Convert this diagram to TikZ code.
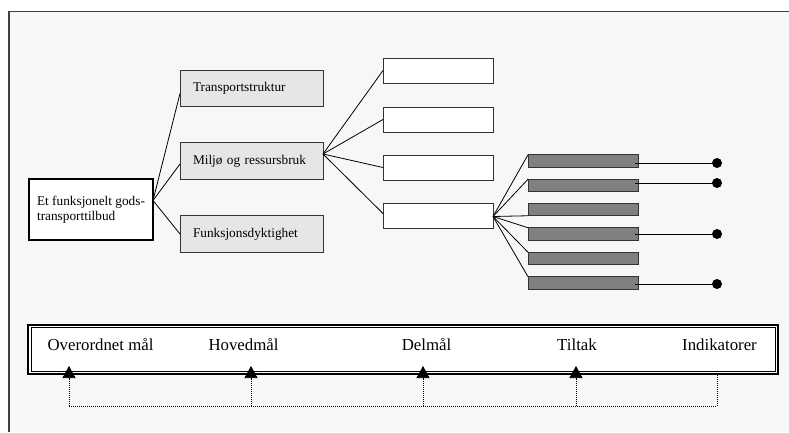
\documentclass[tikz,border=0pt]{standalone}
\usepackage{fontspec}
\setmainfont{Liberation Serif}
\usetikzlibrary{arrows.meta}
\definecolor{bgpanel}{HTML}{F7F7F7}
\definecolor{framec}{HTML}{404040}
\definecolor{lightbox}{HTML}{E6E6E6}
\definecolor{darkbar}{HTML}{808080}
\definecolor{edgec}{HTML}{333333}
\tikzset{
  boxbase/.style={draw=edgec, line width=1pt, inner sep=0pt, outer sep=0pt},
  rootbox/.style={boxbase, line width=1.8pt, draw=black, fill=white, minimum width=124pt, minimum height=61pt, align=left, font=\fontsize{13.3}{15}\selectfont},
  catbox/.style={boxbase, fill=lightbox, minimum width=143pt, minimum height=36.5pt, text width=117pt, align=left, font=\fontsize{13.3}{15}\selectfont},
  blankbox/.style={boxbase, fill=white, minimum width=110pt, minimum height=25pt},
  barbox/.style={boxbase, fill=darkbar, minimum width=110pt, minimum height=12.5pt},
  enddot/.style={circle, fill=black, inner sep=0pt, minimum size=10pt},
  conn/.style={line width=0.8pt, black},
  bandlabel/.style={anchor=base, font=\fontsize{16.8}{19}\selectfont, inner sep=0pt},
  dotline/.style={line width=0.7pt, dash pattern=on 1pt off 1pt, black},
  uptip/.style={-{Triangle[width=13pt,length=12pt,color=black,fill=black]}}
}
\begin{document}
\begin{tikzpicture}[x=1pt,y=-1pt]
\useasboundingbox (0,0) rectangle (789,432);
\fill[white] (0,0) rectangle (789,432);
\fill[bgpanel] (9,11.5) rectangle (789,432);
\draw[framec, line width=1.5pt] (9,432) -- (9,11.5) -- (789,11.5);

% root
\node[rootbox] (root) at (91,209.5) {Et funksjonelt gods-\\transporttilbud};

% categories
\node[catbox] (c1) at (251.5,88.5) {Transportstruktur};
\node[catbox] (c2) at (251.5,161) {Miljø og ressursbruk};
\node[catbox] (c3) at (251.5,234) {Funksjonsdyktighet};

% blank boxes
\node[blankbox] (w1) at (438,70.5) {};
\node[blankbox] (w2) at (438,119.5) {};
\node[blankbox] (w3) at (438,167.5) {};
\node[blankbox] (w4) at (438,215.5) {};

% bars
\node[barbox] (b1) at (583,161) {};
\node[barbox] (b2) at (583,185.5) {};
\node[barbox] (b3) at (583,209.5) {};
\node[barbox] (b4) at (583,234) {};
\node[barbox] (b5) at (583,258.5) {};
\node[barbox] (b6) at (583,283) {};

% dots
\node[enddot] (d1) at (717,163) {};
\node[enddot] (d2) at (717,183) {};
\node[enddot] (d4) at (717,234) {};
\node[enddot] (d6) at (717,284) {};

% connectors root -> categories
\coordinate (rs) at ([yshift=9pt]root.east);
\draw[conn] (rs) -- ([yshift=-5pt]c1.west);
\draw[conn] (rs) -- ([yshift=-3pt]c2.west);
\draw[conn] (rs) -- (c3.west);

% connectors c2 -> blank boxes
\coordinate (ms) at ([yshift=7pt]c2.east);
\draw[conn] (ms) -- (w1.west);
\draw[conn] (ms) -- (w2.west);
\draw[conn] (ms) -- (w3.west);
\draw[conn] (ms) -- ([yshift=2pt]w4.west);

% connectors w4 -> bars
\coordinate (ws) at ([yshift=-1pt]w4.east);
\draw[conn] (ws) -- (b1.north west);
\draw[conn] (ws) -- (b2.north west);
\draw[conn] (ws) -- (b3.south west);
\draw[conn] (ws) -- (b4.north west);
\draw[conn] (ws) -- (b5.north west);
\draw[conn] (ws) -- (b6.north west);

% bars -> dots
\draw[conn] ([xshift=-3pt]b1.east |- d1) -- (d1);
\draw[conn] ([xshift=-3pt]b2.east |- d2) -- (d2);
\draw[conn] ([xshift=-3pt]b4.east |- d4) -- (d4);
\draw[conn] ([xshift=-3pt]b6.east |- d6) -- (d6);

% band
\node[draw=black, line width=2pt, fill=white, minimum width=750pt, minimum height=49pt, inner sep=0pt] (band) at (403,349.5) {};
\draw[black, line width=1pt] ([xshift=4pt,yshift=-3.5pt]band.north west) rectangle ([xshift=-4pt,yshift=3.5pt]band.south east);

\node[bandlabel] (l1) at (100.5,350) {Overordnet mål};
\node[bandlabel] (l2) at (243.5,350) {Hovedmål};
\node[bandlabel] (l3) at (426.5,350) {Delmål};
\node[bandlabel] (l4) at (577,350) {Tiltak};
\node[bandlabel] (l5) at (719.5,350) {Indikatorer};

% dotted feedback lines
\coordinate (t1) at (69,366);
\coordinate (t2) at (251,366);
\coordinate (t3) at (423,366);
\coordinate (t4) at (576,366);
\coordinate (t5) at (717,374);
\coordinate (f1) at (69,406);
\coordinate (f2) at (251,406);
\coordinate (f3) at (423,406);
\coordinate (f4) at (576,406);
\coordinate (f5) at (717,406);
\draw[dotline] (f1) -- (f5) -- (t5);
\draw[dotline, uptip] (f1) -- (t1);
\draw[dotline, uptip] (f2) -- (t2);
\draw[dotline, uptip] (f3) -- (t3);
\draw[dotline, uptip] (f4) -- (t4);
\end{tikzpicture}
\end{document}
